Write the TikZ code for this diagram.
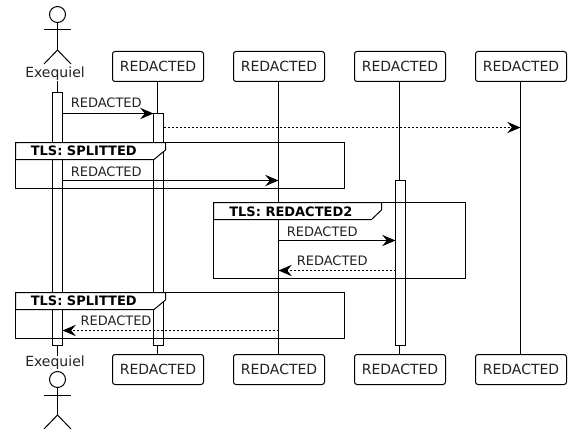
\documentclass[tikz,border=0pt]{standalone}
\usepackage{fontspec}
\setmainfont{DejaVu Sans}
\usetikzlibrary{arrows.meta,backgrounds}
\definecolor{txt}{HTML}{222222}
\tikzset{
  px/.style={x=0.75pt,y=-0.75pt},
  line/.style={draw=black,line width=0.75pt},
  head/.style={line,fill=white,rounded corners=1.9pt,minimum width=68.25pt,minimum height=22.5pt,inner sep=0pt,font=\fontsize{10.5pt}{12pt}\selectfont,text=txt},
  actorname/.style={inner sep=0pt,anchor=base,font=\fontsize{10.5pt}{12pt}\selectfont,text=txt},
  lifebar/.style={line,fill=white,minimum width=7.5pt,inner sep=0pt,outer sep=0pt},
  msg/.style={line,-{Stealth[length=10pt,width=8.5pt,inset=3.5pt]}},
  rmsg/.style={msg,dash pattern=on 1.5pt off 1.5pt},
  msglabel/.style={inner sep=0pt,anchor=base west,font=\fontsize{9.75pt}{11pt}\selectfont,text=txt},
  fragment/.style={line,inner sep=0pt,outer sep=0pt},
  fragtab/.style={line,fill=white,line join=miter},
  fragtitle/.style={inner sep=0pt,anchor=base west,font=\bfseries\fontsize{9.75pt}{11pt}\selectfont,text=black},
  lifeshift/.style={xshift=-0.375pt},
  actorshift/.style={xshift=1.875pt},
}
\newcommand{\actorfig}[2]{% head centre x, head centre y
  \draw[line] (#1,#2) circle[radius=6pt];
  \draw[line] (#1,#2+8) -- (#1,#2+35.5);
  \draw[line] (#1-13.5,#2+15.5) -- (#1+13.5,#2+15.5);
  \draw[line] (#1-13.5,#2+49.5) -- (#1,#2+35.5) -- (#1+13.5,#2+49.5);
}
\begin{document}
\begin{tikzpicture}[px]
\useasboundingbox (0,0) rectangle (571,435);

% participants
\node[actorname] (at) at (55,78) {Exequiel};
\node[head] (b1) at (158,66.5) {REDACTED};
\node[head] (c1) at (279,66.5) {REDACTED};
\node[head] (d1) at (400,66.5) {REDACTED};
\node[head] (e1) at (521,66.5) {REDACTED};
\node[actorname] (ab) at (55,366.7) {Exequiel};
\node[head] (b2) at (158,369.5) {REDACTED};
\node[head] (c2) at (279,369.5) {REDACTED};
\node[head] (d2) at (400,369.5) {REDACTED};
\node[head] (e2) at (521,369.5) {REDACTED};

\actorfig{57.5}{14.5}
\actorfig{57.5}{379.5}

% lifelines and page
\begin{pgfonlayer}{background}
\fill[white] (0,0) rectangle (571,435);
\draw[line] ([actorshift]at.south) -- ([actorshift]ab.north);
\draw[line] ([lifeshift]b1.south) -- ([lifeshift]b2.north);
\draw[line] ([lifeshift]c1.south) -- ([lifeshift]c2.north);
\draw[line] ([lifeshift]d1.south) -- ([lifeshift]d2.north);
\draw[line] ([lifeshift]e1.south) -- ([lifeshift]e2.north);
\end{pgfonlayer}

% activations
\node[lifebar,minimum height=189.75pt] (ba) at (57.5,219) {};
\node[lifebar,minimum height=174pt] (bb) at (158.5,229.5) {};
\node[lifebar,minimum height=123.75pt] (bd) at (400.5,263) {};

% fragments
\node[fragment,draw,minimum width=246.75pt,minimum height=34.5pt] (f1) at (180,165.5) {};
\draw[fragtab] (15.5,142.5) -- (165.5,142.5) -- (165.5,150) -- (154,159.5) -- (15.5,159.5) -- cycle;
\node[fragtitle] (t1) at (30.5,155) {TLS: SPLITTED};

\node[fragment,draw,minimum width=189pt,minimum height=57pt] (f2) at (339.5,240.5) {};
\draw[fragtab] (213.5,202.5) -- (381.5,202.5) -- (381.5,210) -- (371.5,219.5) -- (213.5,219.5) -- cycle;
\node[fragtitle] (t2) at (229,216) {TLS: REDACTED2};

\node[fragment,draw,minimum width=246.75pt,minimum height=34.5pt] (f3) at (180,315.5) {};
\draw[fragtab] (15.5,292.5) -- (165.5,292.5) -- (165.5,300) -- (154,309.5) -- (15.5,309.5) -- cycle;
\node[fragtitle] (t3) at (30.5,305) {TLS: SPLITTED};

% messages
\coordinate (m1a) at (ba.east |- 0,113.5);
\coordinate (m1b) at (bb.west |- 0,113.5);
\draw[msg] (m1a) -- (m1b);
\node[msglabel] (l1) at (70.5,108) {REDACTED};

\coordinate (m2a) at (bb.east |- 0,127.5);
\coordinate (m2b) at ([lifeshift]e1.center |- 0,127.5);
\draw[rmsg] (m2a) -- (m2b);

\coordinate (m3a) at (ba.east |- 0,180.5);
\coordinate (m3b) at ([lifeshift]c1.center |- 0,180.5);
\draw[msg] (m3a) -- (m3b);
\node[msglabel] (l3) at (70.5,176.2) {REDACTED};

\coordinate (m4a) at ([lifeshift]c1.center |- 0,240.5);
\coordinate (m4b) at (bd.west |- 0,240.5);
\draw[msg] (m4a) -- (m4b);
\node[msglabel] (l4) at (286.5,236.3) {REDACTED};

\coordinate (m5a) at (bd.west |- 0,270.5);
\coordinate (m5b) at ([lifeshift]c1.center |- 0,270.5);
\draw[rmsg] (m5a) -- (m5b);
\node[msglabel] (l5) at (296.5,265.3) {REDACTED};

\coordinate (m6a) at ([lifeshift]c1.center |- 0,330.5);
\coordinate (m6b) at (ba.east |- 0,330.5);
\draw[rmsg] (m6a) -- (m6b);
\node[msglabel] (l6) at (80.3,325.3) {REDACTED};
\end{tikzpicture}
\end{document}
